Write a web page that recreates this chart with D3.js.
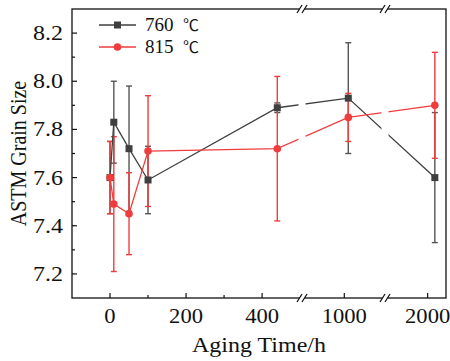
<!DOCTYPE html>
<html>
<head>
<meta charset="utf-8">
<script src="https://cdn.jsdelivr.net/npm/d3@7"></script>
<style>
    body { margin: 0; background: #fff; }
    text { font-family: "Liberation Serif", "Times New Roman", serif; fill: #111; }
</style>
</head>
<body>
<script>
// aging time (h) and ASTM grain size for the two aging temperatures
const agingTime = [0, 10, 50, 100, 440, 1010, 2018];
const grain760 = [7.60, 7.83, 7.72, 7.59, 7.89, 7.93, 7.60];
const err760 = [0.15, 0.17, 0.26, 0.14, 0.02, 0.23, 0.27];
const grain815 = [7.60, 7.49, 7.45, 7.71, 7.72, 7.85, 7.90];
const err815 = [0.15, 0.28, 0.17, 0.23, 0.30, 0.10, 0.22];

const seriesNames = ["760", "815"];
const unitLabel = "℃";
const xMajorTicks = [0, 200, 400, 1000, 2000];
const xMinorTicks = [100, 300];
const yMajorTicks = [7.2, 7.4, 7.6, 7.8, 8.0, 8.2];
const yMinorTicks = [7.3, 7.5, 7.7, 7.9, 8.1];

const COLORS = { BLACK: "#3f3f3f", BLACK_ERR: "#555555", RED: "#ef3d3d", AXIS: "#111111" };

const width = 450, height = 361;
const margin = { top: 9, right: 4, bottom: 63, left: 72 };
const plotW = width - margin.left - margin.right;
const plotH = height - margin.top - margin.bottom;

// broken x axis: three linear pieces
const xSegments = [
    d3.scaleLinear().domain([-100, 505]).range([0, 230]),
    d3.scaleLinear().domain([894, 1102]).range([230, 313]),
    d3.scaleLinear().domain([1893, 2046]).range([313, plotW])
];
const breaks = [230, 313];

function x(v) {
    let s = xSegments.find(seg => v >= seg.domain()[0] && v <= seg.domain()[1]);
    return s(v);
}

const y = d3.scaleLinear().domain([7.1, 8.3]).range([plotH, 0]);

const svg = d3.select("body").append("svg")
    .attr("width", width)
    .attr("height", height);

const g = svg.append("g")
    .attr("transform", "translate(" + margin.left + "," + margin.top + ")");

// clip the connecting lines so they get a small gap at each axis break
const clip = svg.append("defs").append("clipPath").attr("id", "breakClip");
let edges = [0].concat(breaks).concat([plotW]);
for (let i = 0; i < edges.length - 1; i++) {
    let a = edges[i] + (i > 0 ? 3.5 : -10);
    let b = edges[i + 1] - (i < edges.length - 2 ? 3.5 : -10);
    clip.append("rect").attr("x", a).attr("y", -20).attr("width", b - a).attr("height", plotH + 40);
}

const series = [
    { name: seriesNames[0], values: grain760, errors: err760, color: COLORS.BLACK, errColor: COLORS.BLACK_ERR, marker: "square" },
    { name: seriesNames[1], values: grain815, errors: err815, color: COLORS.RED, errColor: COLORS.RED, marker: "circle" }
];

// error bars
series.forEach(function (s) {
    let eg = g.append("g").attr("stroke", s.errColor).attr("stroke-width", 1.4);
    agingTime.forEach(function (t, i) {
        let cx = x(t);
        let top = y(s.values[i] + s.errors[i]);
        let bot = y(s.values[i] - s.errors[i]);
        eg.append("line").attr("x1", cx).attr("x2", cx).attr("y1", top).attr("y2", bot);
        eg.append("line").attr("x1", cx - 3).attr("x2", cx + 3).attr("y1", top).attr("y2", top);
        eg.append("line").attr("x1", cx - 3).attr("x2", cx + 3).attr("y1", bot).attr("y2", bot);
    });
});

// connecting lines
const line = d3.line().x((d, i) => x(agingTime[i])).y(d => y(d));
series.forEach(function (s) {
    g.append("path")
        .datum(s.values)
        .attr("clip-path", "url(#breakClip)")
        .attr("fill", "none")
        .attr("stroke", s.color)
        .attr("stroke-width", 1.3)
        .attr("d", line);
});

function drawMarker(parent, s, cx, cy) {
    if (s.marker === "square") {
        parent.append("rect")
            .attr("x", cx - 3.5).attr("y", cy - 3.5)
            .attr("width", 7).attr("height", 7)
            .attr("fill", s.color);
    } else {
        parent.append("circle")
            .attr("cx", cx).attr("cy", cy).attr("r", 3.8)
            .attr("fill", s.color);
    }
}

// markers
series.forEach(function (s) {
    let mg = g.append("g");
    agingTime.forEach(function (t, i) {
        drawMarker(mg, s, x(t), y(s.values[i]));
    });
});

// frame
g.append("rect")
    .attr("width", plotW).attr("height", plotH)
    .attr("fill", "none").attr("stroke", COLORS.AXIS).attr("stroke-width", 1.3);

// ticks (inside)
const axisG = g.append("g").attr("stroke", COLORS.AXIS).attr("stroke-width", 1.2);
yMajorTicks.forEach(function (v) {
    axisG.append("line").attr("x1", 0).attr("x2", 5).attr("y1", y(v)).attr("y2", y(v));
});
yMinorTicks.forEach(function (v) {
    axisG.append("line").attr("x1", 0).attr("x2", 3).attr("y1", y(v)).attr("y2", y(v));
});
xMajorTicks.forEach(function (v) {
    axisG.append("line").attr("x1", x(v)).attr("x2", x(v)).attr("y1", plotH).attr("y2", plotH - 5);
});
xMinorTicks.forEach(function (v) {
    axisG.append("line").attr("x1", x(v)).attr("x2", x(v)).attr("y1", plotH).attr("y2", plotH - 3);
});

// tick labels
g.selectAll("text.ylab")
    .data(yMajorTicks)
    .enter()
    .append("text")
    .attr("class", "ylab")
    .attr("transform", d => "translate(-9," + (y(d) + 7) + ") scale(1.2,1)")
    .attr("text-anchor", "end")
    .attr("font-size", 20)
    .text(d => d.toFixed(1));

g.selectAll("text.xlab")
    .data(xMajorTicks)
    .enter()
    .append("text")
    .attr("class", "xlab")
    .attr("transform", d => "translate(" + x(d) + "," + (plotH + 25) + ") scale(1.13,1)")
    .attr("text-anchor", "middle")
    .attr("font-size", 20)
    .text(d => d);

// break marks on top and bottom axes
breaks.forEach(function (bx) {
    [0, plotH].forEach(function (by) {
        g.append("rect")
            .attr("x", bx - 2.5).attr("y", by - 1.5)
            .attr("width", 5).attr("height", 3)
            .attr("fill", "#fff");
        [-2.5, 2.5].forEach(function (off) {
            g.append("line")
                .attr("x1", bx + off - 2.5).attr("y1", by + 4)
                .attr("x2", bx + off + 2.5).attr("y2", by - 4)
                .attr("stroke", COLORS.AXIS).attr("stroke-width", 1.3);
        });
    });
});

// axis titles
svg.append("text")
    .attr("transform", "translate(" + (margin.left + plotW / 2) + "," + (height - 9) + ") scale(1.2,1)")
    .attr("text-anchor", "middle")
    .attr("font-size", 20)
    .text("Aging Time/h");

svg.append("text")
    .attr("transform", "translate(26," + (margin.top + plotH / 2) + ") rotate(-90) scale(1,1.2)")
    .attr("text-anchor", "middle")
    .attr("font-size", 20)
    .text("ASTM Grain Size");

// legend
const legend = svg.append("g").attr("transform", "translate(99,25)");
series.forEach(function (s, i) {
    let row = legend.append("g").attr("transform", "translate(0," + (i * 22) + ")");
    row.append("line")
        .attr("x1", 0).attr("x2", 37)
        .attr("stroke", s.color).attr("stroke-width", 1.3);
    drawMarker(row, s, 18.5, 0);
    let label = row.append("text")
        .attr("x", 46).attr("y", 6)
        .attr("font-size", 19);
    label.append("tspan").text(s.name);
    label.append("tspan")
        .attr("x", 84)
        .attr("font-family", "'Noto Sans CJK SC', sans-serif")
        .attr("font-size", 16)
        .text(unitLabel);
});
</script>
</body>
</html>
